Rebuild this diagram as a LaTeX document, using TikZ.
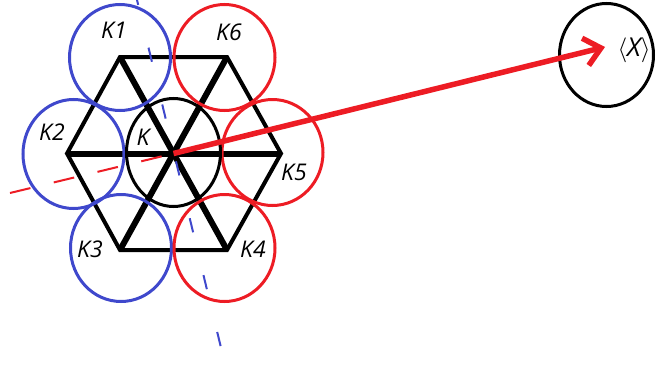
\documentclass[tikz,border=0pt]{standalone}
\usepackage{fontspec}
\setmainfont{Open Sans}
\usetikzlibrary{shapes.geometric, arrows.meta}
\definecolor{kBlue}{RGB}{63,72,204}
\definecolor{kRed}{RGB}{237,28,36}
\tikzset{
	cell/.style    ={ellipse, draw, line width=3pt, inner sep=0pt, minimum width=101pt, minimum height=106pt},
	lbl/.style     ={font=\fontsize{23}{27}\selectfont\itshape, inner sep=0pt},
	hexedge/.style ={line width=4pt, line join=miter},
	hexdiag/.style ={line width=6pt},
	% dashed guide lines through the centre
	guideB/.style  ={kBlue, line width=2pt, dash pattern=on 14.5pt off 44pt, dash phase=9.5pt},
	guideR/.style  ={kRed, line width=2pt, dash pattern=on 21pt off 24pt},
	moveto/.style  ={kRed, line width=5.5pt, -{Straight Barb[length=16pt, width=28pt]}},
}

\begin{document}
\begin{tikzpicture}[x=1pt, y=-1pt]
	\useasboundingbox (0,0) rectangle (656,367);
	% hexagon corners and centre
	\coordinate (c)  at (173.5,153.5);
	\coordinate (v1) at (120,57);
	\coordinate (v2) at (227,57);
	\coordinate (v3) at (281,153.5);
	\coordinate (v4) at (227,250);
	\coordinate (v5) at (120,250);
	\coordinate (v6) at (67,153.5);
	\draw[hexedge] (v1) -- (v2) -- (v3) -- (v4) -- (v5) -- (v6) -- cycle;
	\draw[hexdiag] (v1) -- (v4);
	\draw[hexdiag] (v2) -- (v5);
	\draw[hexdiag] (v6) -- (v3);
	% neighbour cells
	\node[cell, draw=kBlue] (k1) at (120,57.5) {};
	\node[cell, draw=kRed]  (k6) at (224.5,57.5) {};
	\node[cell, draw=kBlue, minimum height=109pt] (k2) at (73.5,154) {};
	\node[cell, draw=kRed]  (k5) at (272.5,152.5) {};
	\node[cell, draw=kBlue, minimum height=107pt] (k3) at (121,248) {};
	\node[cell, draw=kRed, minimum height=107pt]  (k4) at (224.5,248) {};
	\node[cell, minimum width=94pt, minimum height=108pt] (k) at (173.5,152.5) {};
	\node[cell, minimum width=94pt, minimum height=103pt] (x) at (606.5,55) {};
	% guide lines
	\coordinate (bTop) at (137,0);
	\coordinate (bBot) at (223,356);
	\coordinate (rEnd) at (10,193);
	\coordinate (tip)  at (605,47);
	\draw[guideB] (bTop) -- (bBot);
	\draw[guideR] (rEnd) -- (c);
	\draw[moveto] (c) -- (tip);
	% labels
	\node[lbl] (l1) at (114,30)  {K1};
	\node[lbl] (l6) at (229,32)  {K6};
	\node[lbl] (l2) at (52,132)  {K2};
	\node[lbl] (l0) at (143,137) {K};
	\node[lbl] (l5) at (294,172) {K5};
	\node[lbl] (l3) at (90,249)  {K3};
	\node[lbl] (l4) at (253,249) {K4};
	\node[lbl, font=\fontsize{26}{30}\selectfont\itshape] (lx) at (634,50) {$\langle$\textit{X}$\rangle$};
\end{tikzpicture}
\end{document}
